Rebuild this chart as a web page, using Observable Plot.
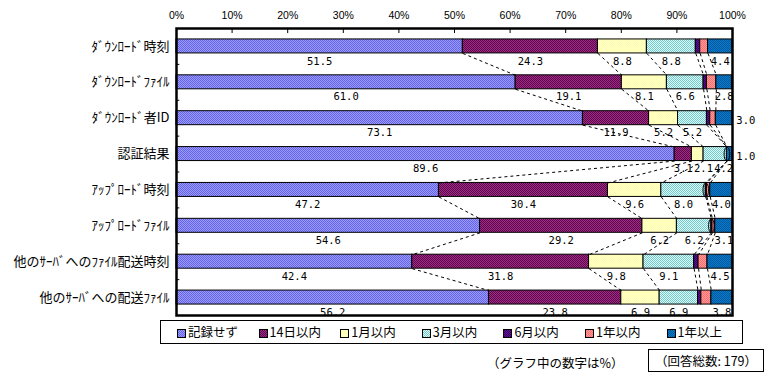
<!DOCTYPE html>
<html><head><meta charset="utf-8">
<script src="https://cdn.jsdelivr.net/npm/d3@7"></script>
<script src="https://cdn.jsdelivr.net/npm/@observablehq/plot@0.6"></script>
<style>
body{margin:0;background:#fff;}
#wrap{position:relative;width:770px;height:376px;background:#fff;overflow:hidden;font-family:"Noto Sans CJK JP",sans-serif;}
#legend{position:absolute;left:160px;top:320px;width:581px;height:22px;border:1px solid #000;}
.li{position:absolute;top:3px;font-size:12.5px;line-height:16px;white-space:nowrap;}
.li svg{vertical-align:-1px;margin-right:2px;}
#note{position:absolute;left:487px;top:353px;font-size:12.5px;white-space:nowrap;}
#total{position:absolute;left:648px;top:349px;width:114px;height:21px;border:1px solid #000;font-size:12.5px;line-height:21px;text-align:center;white-space:nowrap;}
</style></head>
<body>
<svg width="0" height="0" style="position:absolute">
<defs id="defs"></defs>
</svg>
<div id="wrap"><div id="legend"></div><div id="note">（グラフ中の数字は%）</div><div id="total">（回答総数: 179）</div></div>
<script>
const categories = ["ﾀﾞｳﾝﾛｰﾄﾞ時刻","ﾀﾞｳﾝﾛｰﾄﾞﾌｧｲﾙ","ﾀﾞｳﾝﾛｰﾄﾞ者ID","認証結果","ｱｯﾌﾟﾛｰﾄﾞ時刻","ｱｯﾌﾟﾛｰﾄﾞﾌｧｲﾙ","他のｻｰﾊﾞへのﾌｧｲﾙ配送時刻","他のｻｰﾊﾞへの配送ﾌｧｲﾙ"];
const series = ["記録せず","14日以内","1月以内","3月以内","6月以内","1年以内","1年以上"];
const noRecord  = [51.5, 61.0, 73.1, 89.6, 47.2, 54.6, 42.4, 56.2];
const within14d = [24.3, 19.1, 11.9, 3.1, 30.4, 29.2, 31.8, 23.8];
const within1m  = [8.8, 8.1, 5.2, 2.1, 9.6, 6.2, 9.8, 6.9];
const within3m  = [8.8, 6.6, 5.2, 4.2, 8.0, 6.2, 9.1, 6.9];
const within6m  = [0.8, 0.6, 0.6, 0.0, 0.2, 0.2, 0.8, 0.6];
const within1y  = [1.4, 1.7, 1.0, 0.0, 0.6, 0.5, 1.6, 1.8];
const over1y    = [4.4, 2.8, 3.0, 1.0, 4.0, 3.1, 4.5, 3.8];
const xTicks = [0,10,20,30,40,50,60,70,80,90,100];
const labelledSeries = ["記録せず","14日以内","1月以内","3月以内","1年以上"];
const sideLabelRows = ["ﾀﾞｳﾝﾛｰﾄﾞ者ID","認証結果"];
const circledRows = ["認証結果","ｱｯﾌﾟﾛｰﾄﾞ時刻","ｱｯﾌﾟﾛｰﾄﾞﾌｧｲﾙ"];
const seriesValues = [noRecord, within14d, within1m, within3m, within6m, within1y, over1y];
const patterns = [["#9a9aff","#6464e4"],["#9c3370","#600060"],["#ffffd0","#ffffa8"],["#d0ffff","#80c4c4"],["#6a0aa0","#30005a"],["#ff9a9a","#ff6e6e"],["#0a7ad0","#005a9a"]];

const defs = document.getElementById("defs");
defs.innerHTML = patterns.map((p,k)=>`<pattern id="pat${k}" patternUnits="userSpaceOnUse" width="2" height="2"><rect width="2" height="2" fill="${p[0]}"/><rect width="1" height="1" fill="${p[1]}"/><rect x="1" y="1" width="1" height="1" fill="${p[1]}"/></pattern>`).join("");

const half = 0.195;
const segs = [];
categories.forEach((c,i)=>{
  let cum = 0;
  series.forEach((s,k)=>{
    const v = seriesValues[k][i];
    segs.push({cat:c, row:i, k, s, v, x1:cum, x2:cum+v});
    cum += v;
  });
});
const links = [];
for (let i=0;i<categories.length-1;i++){
  for (let k=0;k<series.length-1;k++){
    const a = segs.find(d=>d.row===i&&d.k===k), b = segs.find(d=>d.row===i+1&&d.k===k);
    links.push({x1:a.x2, y1:i+0.5+half, x2:b.x2, y2:i+1+0.5-half});
  }
}
// label positions: segment centres, nudged apart when they would collide
const pxPerUnit = (732-176)/100, charPx = 6.4;
const labels = [];
categories.forEach((c,i)=>{
  let prevRight = -Infinity;
  segs.filter(d=>d.row===i && labelledSeries.includes(d.s)).forEach(d=>{
    const t = d.v.toFixed(1);
    const side = d.s==="1年以上" && sideLabelRows.includes(d.cat);
    if (side) { labels.push({x:102.4, y:d.row+0.58, t}); return; }
    const w = (t.length*charPx+1)/pxPerUnit;
    let x = (d.x1+d.x2)/2;
    if (x - w/2 < prevRight) x = prevRight + w/2;
    prevRight = x + w/2;
    labels.push({x, y:d.row+0.5+0.41, t});
  });
});
const circles = segs.filter(d=>d.s==="3月以内" && circledRows.includes(d.cat)).map(d=>({x:d.x2, y:d.row+0.5}));
const ellipse = {draw(ctx){const rx=2.8, ry=7, k=0.5523;
  ctx.moveTo(0,-ry);
  ctx.bezierCurveTo(rx*k,-ry,rx,-ry*k,rx,0);
  ctx.bezierCurveTo(rx,ry*k,rx*k,ry,0,ry);
  ctx.bezierCurveTo(-rx*k,ry,-rx,ry*k,-rx,0);
  ctx.bezierCurveTo(-rx,-ry*k,-rx*k,-ry,0,-ry);
  ctx.closePath();}};

const chart = Plot.plot({
  width: 770, height: 318,
  marginLeft: 176, marginRight: 38, marginTop: 28, marginBottom: 3,
  x: {domain:[0,100], label:null},
  y: {domain:[8,0], label:null},
  color: {type:"identity"},
  style: {fontFamily:"'Noto Sans CJK JP', sans-serif", background:"transparent", overflow:"visible"},
  marks: [
    Plot.rect(segs, {x1:"x1", x2:"x2", y1:d=>d.row+0.5-half, y2:d=>d.row+0.5+half, fill:d=>`url(#pat${d.k})`, stroke:"#000", strokeWidth:1}),
    Plot.link(links, {x1:"x1", y1:"y1", x2:"x2", y2:"y2", stroke:"#000", strokeWidth:1, strokeDasharray:"3,3"}),
    Plot.text(labels, {x:"x", y:"y", text:"t", fontSize:10.5, fontFamily:"'DejaVu Sans Mono', monospace", fill:"#000"}),
    Plot.dot(circles, {x:"x", y:"y", symbol: ellipse, stroke:"#000", fill:"none", strokeWidth:1}),
    Plot.ruleX(xTicks.slice(1,-1), {y1:0, y2:0.14, stroke:"#000", strokeWidth:1}),
    Plot.ruleY([1,2,3,4,5,6,7], {x1:0, x2:0.6, stroke:"#000", strokeWidth:1}),
    Plot.axisX({anchor:"top", ticks:xTicks, tickFormat:d=>d+"%", tickSize:0, tickPadding:10, fontSize:10.5, fontFamily:"'Liberation Sans', sans-serif"}),
    Plot.axisY({anchor:"left", ticks:[0.5,1.5,2.5,3.5,4.5,5.5,6.5,7.5], tickFormat:d=>categories[Math.floor(d)], tickSize:0, tickPadding:7, fontSize:13}),
    Plot.frame({stroke:"#000", strokeWidth:2.5})
  ]
});
chart.style.position="absolute"; chart.style.left="0"; chart.style.top="0";
document.getElementById("wrap").prepend(chart);

const legend = document.getElementById("legend");
series.forEach((s,k)=>{
  const el = document.createElement("div");
  el.className="li"; el.style.left = (16 + 81.6*k) + "px";
  el.innerHTML = `<svg width="9" height="9"><rect x="0.5" y="0.5" width="8" height="8" fill="url(#pat${k})" stroke="#000"/></svg>${s}`;
  legend.appendChild(el);
});
</script>
</body></html>
